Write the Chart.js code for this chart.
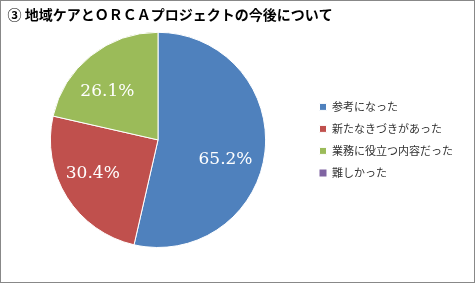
<!DOCTYPE html>
<html>
<head>
<meta charset="utf-8">
<script src="https://cdn.jsdelivr.net/npm/chart.js@4/dist/chart.umd.min.js"></script>
<style>
html,body{margin:0;padding:0;background:#fff;}
#wrap{width:475px;height:283px;position:relative;}
</style>
</head>
<body>
<div id="wrap"><canvas id="c" width="475" height="283"></canvas></div>
<script>
const titleText = '③ 地域ケアとＯＲＣＡプロジェクトの今後について';
const categories = ['参考になった', '新たなきづきがあった', '業務に役立つ内容だった', '難しかった'];
const values = [65.2, 30.4, 26.1, 0];
const colors = ['#4F81BD', '#C0504D', '#9BBB59', '#8064A2'];
const labelOffsets = [[-2, 12], [-6, -4], [-7, 6]];

const frame = {
  id: 'frame',
  afterDraw(chart) {
    const ctx = chart.ctx;
    ctx.save();
    ctx.strokeStyle = '#888888';
    ctx.lineWidth = 1;
    ctx.strokeRect(0.5, 0.5, chart.width - 1, chart.height - 1);
    ctx.restore();
  }
};

const sliceLabels = {
  id: 'sliceLabels',
  afterDatasetsDraw(chart) {
    const ctx = chart.ctx;
    const meta = chart.getDatasetMeta(0);
    ctx.save();
    ctx.fillStyle = '#ffffff';
    ctx.font = '17px "DejaVu Serif", serif';
    ctx.textAlign = 'center';
    ctx.textBaseline = 'middle';
    meta.data.forEach((arc, i) => {
      const v = values[i];
      if (!v) return;
      const p = arc.getProps(['x', 'y', 'startAngle', 'endAngle', 'outerRadius'], true);
      const mid = (p.startAngle + p.endAngle) / 2;
      const f = 0.65;
      const off = labelOffsets[i] || [0, 0];
      const x = p.x + Math.cos(mid) * p.outerRadius * f + off[0];
      const y = p.y + Math.sin(mid) * p.outerRadius * f + off[1];
      ctx.fillText(v.toFixed(1) + '%', x, y);
    });
    ctx.restore();
  }
};

Chart.defaults.font.family = '"Noto Sans CJK JP", sans-serif';

new Chart(document.getElementById('c'), {
  type: 'pie',
  data: {
    labels: categories,
    datasets: [{
      data: values,
      backgroundColor: colors,
      borderColor: '#ffffff',
      borderWidth: [1, 1, 1, 0],
      hoverOffset: 0
    }]
  },
  options: {
    responsive: false,
    animation: false,
    layout: { padding: { left: 7.5, right: 12, top: 0, bottom: 35 } },
    plugins: {
      title: {
        display: true,
        text: titleText,
        align: 'start',
        color: '#000000',
        font: { size: 14, weight: 'bold' },
        padding: { top: 6.5, bottom: 8.5 }
      },
      legend: {
        position: 'right',
        align: 'center',
        fullSize: false,
        labels: {
          boxWidth: 7,
          boxHeight: 7,
          padding: 11,
          color: '#333333',
          font: { size: 11 }
        }
      },
      tooltip: { enabled: false }
    }
  },
  plugins: [sliceLabels, frame]
});
</script>
</body>
</html>
